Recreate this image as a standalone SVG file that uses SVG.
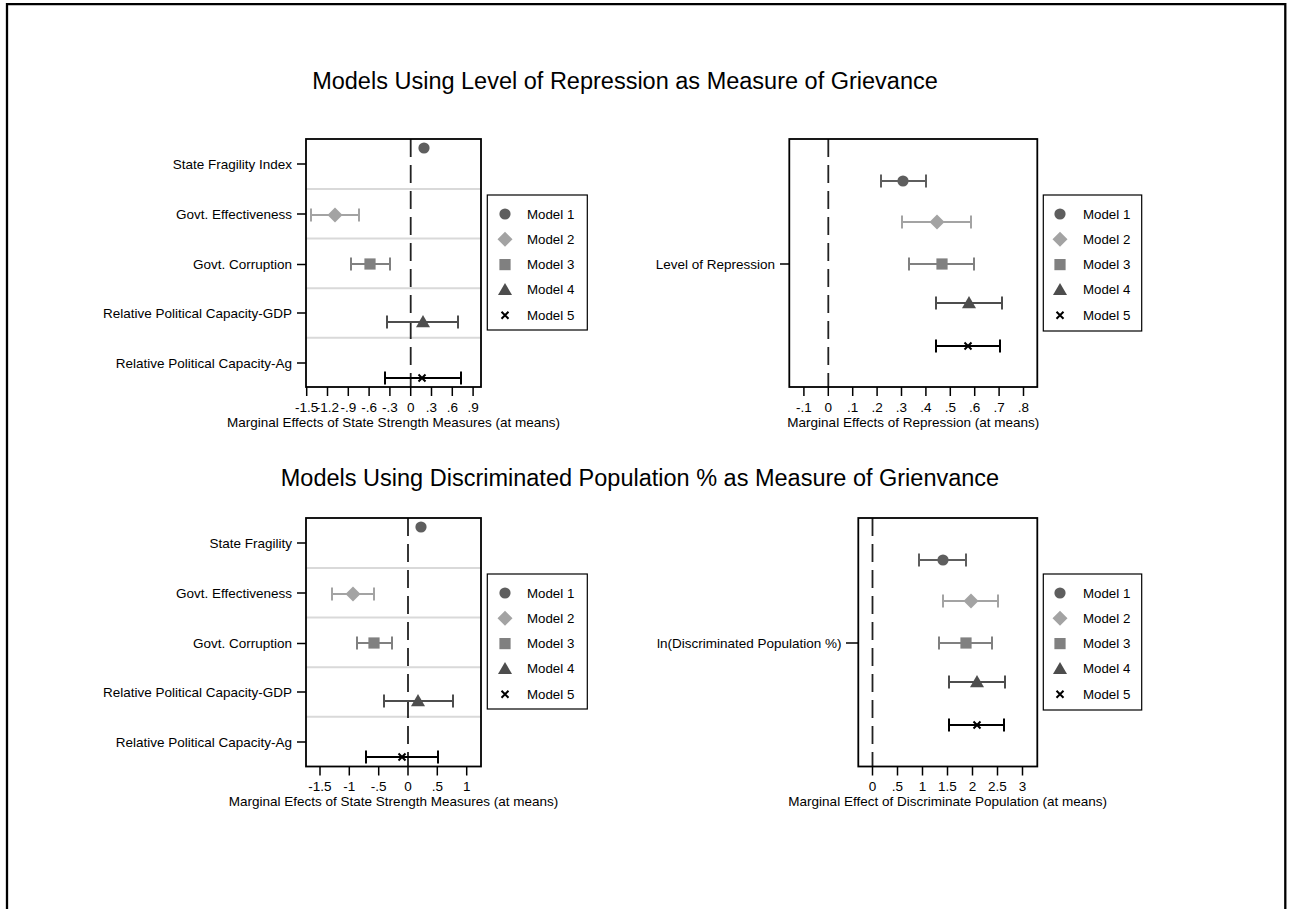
<svg xmlns="http://www.w3.org/2000/svg" xmlns:xlink="http://www.w3.org/1999/xlink" width="1291" height="909" viewBox="0 0 1291 909">
<style>
text{font-family:"Liberation Sans",Arial,Helvetica,sans-serif;fill:#000}
.lab{font-size:13.5px;text-anchor:end}
.tk{font-size:13.5px;text-anchor:middle}
.ttl{font-size:13.5px;text-anchor:middle}
.leg{font-size:13.3px}
.big{font-size:23.5px;text-anchor:middle}
.frame{fill:none;stroke:#000;stroke-width:1.8}
.tick{stroke:#000;stroke-width:1.5}
.grid{stroke:#d9d9d9;stroke-width:2}
.zero{stroke:#222;stroke-width:1.8;stroke-dasharray:18 8}
.lbox{fill:#fff;stroke:#000;stroke-width:1.2}
.ci{fill:none;stroke-width:2}
.c1{stroke:#5e5e5e}.c2{stroke:#a3a3a3}.c3{stroke:#808080}.c4{stroke:#4d4d4d}.c5{stroke:#000}
</style>
<defs>
<circle id="m1" r="5.6" fill="#5e5e5e"/>
<polygon id="m2" points="0,-7.5 7.5,0 0,7.5 -7.5,0" fill="#a3a3a3"/>
<rect id="m3" x="-5.6" y="-5.6" width="11.2" height="11.2" fill="#808080"/>
<polygon id="m4" points="0,-7 7,5.2 -7,5.2" fill="#4d4d4d"/>
<path id="m5" d="M-3.5,-3.5L3.5,3.5M-3.5,3.5L3.5,-3.5" stroke="#000" stroke-width="2" fill="none"/>
</defs>
<rect width="1291" height="909" fill="#fff"/>
<path d="M7,912V4.2H1285.3V912" fill="none" stroke="#000" stroke-width="2.3"/>

<text class="big" x="625" y="89">Models Using Level of Repression as Measure of Grievance</text>
<text class="big" x="640" y="486">Models Using Discriminated Population % as Measure of Grienvance</text>

<!-- Top-left panel -->
<g id="panel-tl">
<path class="grid" d="M306,189H481M306,238.5H481M306,288.3H481M306,337.8H481"/>
<line class="zero" x1="410.7" y1="139" x2="410.7" y2="387"/>
<rect class="frame" x="306" y="139" width="175" height="248"/>
<path class="tick" d="M297,164H306M297,214H306M297,264.5H306M297,313H306M297,363H306"/>
<text class="lab" x="292" y="168.7">State Fragility Index</text>
<text class="lab" x="292" y="218.7">Govt. Effectiveness</text>
<text class="lab" x="292" y="269.2">Govt. Corruption</text>
<text class="lab" x="292" y="317.7">Relative Political Capacity-GDP</text>
<text class="lab" x="292" y="367.7">Relative Political Capacity-Ag</text>
<path class="tick" d="M306.7,387V396M327.5,387V396M348.3,387V396M369.1,387V396M389.9,387V396M410.7,387V396M431.5,387V396M452.3,387V396M473.1,387V396"/>
<text class="tk" y="412"><tspan x="306.7">-1.5</tspan><tspan x="327.5">-1.2</tspan><tspan x="348.3">-.9</tspan><tspan x="369.1">-.6</tspan><tspan x="389.9">-.3</tspan><tspan x="410.7">0</tspan><tspan x="431.5">.3</tspan><tspan x="452.3">.6</tspan><tspan x="473.1">.9</tspan></text>
<text class="ttl" x="393.5" y="427">Marginal Effects of State Strength Measures (at means)</text>
<path class="ci c2" d="M311,215H359M311,208.5V221.5M359,208.5V221.5"/>
<path class="ci c3" d="M351,264H390M351,257.5V270.5M390,257.5V270.5"/>
<path class="ci c4" d="M387,322H458M387,315.5V328.5M458,315.5V328.5"/>
<path class="ci c5" d="M385,378H461M385,371.5V384.5M461,371.5V384.5"/>
<use href="#m1" x="424" y="148"/>
<use href="#m2" x="335" y="215"/>
<use href="#m3" x="370" y="264"/>
<use href="#m4" x="423" y="322"/>
<use href="#m5" x="422" y="378"/>
</g>
<g id="legend-tl">
<rect class="lbox" x="487.3" y="195" width="100" height="135"/>
<use href="#m1" x="505" y="214"/><text class="leg" x="527" y="218.5">Model 1</text>
<use href="#m2" x="505" y="239.3"/><text class="leg" x="527" y="243.8">Model 2</text>
<use href="#m3" x="505" y="264.6"/><text class="leg" x="527" y="269.1">Model 3</text>
<use href="#m4" x="505" y="289.9"/><text class="leg" x="527" y="294.4">Model 4</text>
<use href="#m5" x="505" y="315.2"/><text class="leg" x="527" y="319.7">Model 5</text>
</g>

<!-- Top-right panel -->
<g id="panel-tr">
<line class="zero" x1="828.3" y1="139" x2="828.3" y2="387"/>
<rect class="frame" x="789.3" y="139" width="248" height="248"/>
<path class="tick" d="M780,264H789.3"/>
<text class="lab" x="775" y="268.7">Level of Repression</text>
<path class="tick" d="M803.9,387V396M828.3,387V396M852.7,387V396M877.1,387V396M901.5,387V396M925.9,387V396M950.3,387V396M974.7,387V396M999.1,387V396M1023.5,387V396"/>
<text class="tk" y="412"><tspan x="803.9">-.1</tspan><tspan x="828.3">0</tspan><tspan x="852.7">.1</tspan><tspan x="877.1">.2</tspan><tspan x="901.5">.3</tspan><tspan x="925.9">.4</tspan><tspan x="950.3">.5</tspan><tspan x="974.7">.6</tspan><tspan x="999.1">.7</tspan><tspan x="1023.5">.8</tspan></text>
<text class="ttl" x="913.3" y="427">Marginal Effects of Repression (at means)</text>
<path class="ci c1" d="M881,181H926M881,174.5V187.5M926,174.5V187.5"/>
<path class="ci c2" d="M902,222H971M902,215.5V228.5M971,215.5V228.5"/>
<path class="ci c3" d="M909,264H974M909,257.5V270.5M974,257.5V270.5"/>
<path class="ci c4" d="M936,303H1002M936,296.5V309.5M1002,296.5V309.5"/>
<path class="ci c5" d="M936,346H1000M936,339.5V352.5M1000,339.5V352.5"/>
<use href="#m1" x="903" y="181"/>
<use href="#m2" x="937" y="222"/>
<use href="#m3" x="942" y="264"/>
<use href="#m4" x="969" y="303"/>
<use href="#m5" x="968" y="346"/>
</g>
<g id="legend-tr">
<rect class="lbox" x="1043.3" y="195" width="98.4" height="136"/>
<use href="#m1" x="1060" y="214"/><text class="leg" x="1083" y="218.5">Model 1</text>
<use href="#m2" x="1060" y="239.3"/><text class="leg" x="1083" y="243.8">Model 2</text>
<use href="#m3" x="1060" y="264.6"/><text class="leg" x="1083" y="269.1">Model 3</text>
<use href="#m4" x="1060" y="289.9"/><text class="leg" x="1083" y="294.4">Model 4</text>
<use href="#m5" x="1060" y="315.2"/><text class="leg" x="1083" y="319.7">Model 5</text>
</g>

<!-- Bottom-left panel -->
<g id="panel-bl">
<path class="grid" d="M306,568H481M306,617.5H481M306,667.3H481M306,716.8H481"/>
<line class="zero" x1="408" y1="518" x2="408" y2="766"/>
<rect class="frame" x="306" y="518" width="175" height="248.5"/>
<path class="tick" d="M297,543H306M297,593H306M297,643.5H306M297,692H306M297,742H306"/>
<text class="lab" x="292" y="547.7">State Fragility</text>
<text class="lab" x="292" y="597.7">Govt. Effectiveness</text>
<text class="lab" x="292" y="648.2">Govt. Corruption</text>
<text class="lab" x="292" y="696.7">Relative Political Capacity-GDP</text>
<text class="lab" x="292" y="746.7">Relative Political Capacity-Ag</text>
<path class="tick" d="M320,766.5V775.5M349.3,766.5V775.5M378.7,766.5V775.5M408,766.5V775.5M437.3,766.5V775.5M466.7,766.5V775.5"/>
<text class="tk" y="791"><tspan x="320">-1.5</tspan><tspan x="349.3">-1</tspan><tspan x="378.7">-.5</tspan><tspan x="408">0</tspan><tspan x="437.3">.5</tspan><tspan x="466.7">1</tspan></text>
<text class="ttl" x="393.5" y="806">Marginal Efects of State Strength Measures (at means)</text>
<path class="ci c2" d="M332,594H374M332,587.5V600.5M374,587.5V600.5"/>
<path class="ci c3" d="M357,643H392M357,636.5V649.5M392,636.5V649.5"/>
<path class="ci c4" d="M384,701H453M384,694.5V707.5M453,694.5V707.5"/>
<path class="ci c5" d="M366,757H438M366,750.5V763.5M438,750.5V763.5"/>
<use href="#m1" x="421" y="527"/>
<use href="#m2" x="353" y="594"/>
<use href="#m3" x="374" y="643"/>
<use href="#m4" x="418" y="701"/>
<use href="#m5" x="402" y="757"/>
</g>
<g id="legend-bl">
<rect class="lbox" x="487.3" y="574" width="100" height="135"/>
<use href="#m1" x="505" y="593"/><text class="leg" x="527" y="597.5">Model 1</text>
<use href="#m2" x="505" y="618.3"/><text class="leg" x="527" y="622.8">Model 2</text>
<use href="#m3" x="505" y="643.6"/><text class="leg" x="527" y="648.1">Model 3</text>
<use href="#m4" x="505" y="668.9"/><text class="leg" x="527" y="673.4">Model 4</text>
<use href="#m5" x="505" y="694.2"/><text class="leg" x="527" y="698.7">Model 5</text>
</g>

<!-- Bottom-right panel -->
<g id="panel-br">
<line class="zero" x1="872.5" y1="518" x2="872.5" y2="766"/>
<rect class="frame" x="858.3" y="518" width="179" height="248.5"/>
<path class="tick" d="M846,643H858.3"/>
<text class="lab" x="841.5" y="647.7">ln(Discriminated Population %)</text>
<path class="tick" d="M872.5,766.5V775.5M897.5,766.5V775.5M922.5,766.5V775.5M947.5,766.5V775.5M972.5,766.5V775.5M997.5,766.5V775.5M1022.5,766.5V775.5"/>
<text class="tk" y="791"><tspan x="872.5">0</tspan><tspan x="897.5">.5</tspan><tspan x="922.5">1</tspan><tspan x="947.5">1.5</tspan><tspan x="972.5">2</tspan><tspan x="997.5">2.5</tspan><tspan x="1022.5">3</tspan></text>
<text class="ttl" x="947.7" y="806">Marginal Effect of Discriminate Population (at means)</text>
<path class="ci c1" d="M919,560H966M919,553.5V566.5M966,553.5V566.5"/>
<path class="ci c2" d="M943,601H998M943,594.5V607.5M998,594.5V607.5"/>
<path class="ci c3" d="M939,643H992M939,636.5V649.5M992,636.5V649.5"/>
<path class="ci c4" d="M949,682H1005M949,675.5V688.5M1005,675.5V688.5"/>
<path class="ci c5" d="M949,725H1004M949,718.5V731.5M1004,718.5V731.5"/>
<use href="#m1" x="943" y="560"/>
<use href="#m2" x="971" y="601"/>
<use href="#m3" x="966" y="643"/>
<use href="#m4" x="977" y="682"/>
<use href="#m5" x="977" y="725"/>
</g>
<g id="legend-br">
<rect class="lbox" x="1043.3" y="574" width="98.4" height="136"/>
<use href="#m1" x="1060" y="593"/><text class="leg" x="1083" y="597.5">Model 1</text>
<use href="#m2" x="1060" y="618.3"/><text class="leg" x="1083" y="622.8">Model 2</text>
<use href="#m3" x="1060" y="643.6"/><text class="leg" x="1083" y="648.1">Model 3</text>
<use href="#m4" x="1060" y="668.9"/><text class="leg" x="1083" y="673.4">Model 4</text>
<use href="#m5" x="1060" y="694.2"/><text class="leg" x="1083" y="698.7">Model 5</text>
</g>
</svg>
